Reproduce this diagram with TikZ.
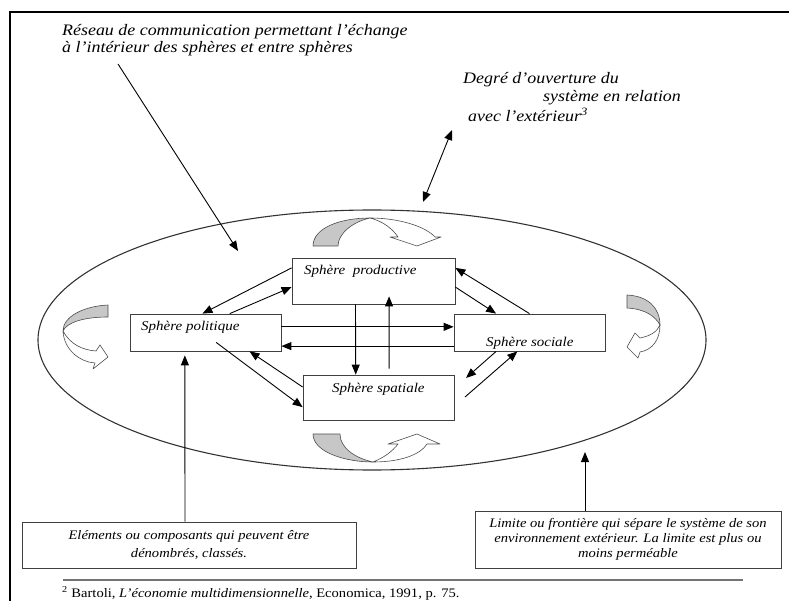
\documentclass[tikz,border=0pt]{standalone}
\usepackage{fontspec}
\setmainfont[FakeStretch=1.12]{Liberation Serif}
\usetikzlibrary{arrows.meta,shapes.geometric,calc}
\begin{document}
\begin{tikzpicture}[x=1pt,y=-1pt,
  every node/.style={inner sep=0pt},
  tip/.style={-{Triangle[length=10pt,width=8pt]}},
  link/.style={draw=black, line width=0.9pt, tip},
  spherebox/.style={draw=black!75, line width=0.8pt, fill=white},
  spherelab/.style={anchor=base west, font=\fontsize{13.4}{15}\selectfont\itshape},
  caption/.style={anchor=base west, font=\fontsize{16}{17}\selectfont\itshape},
  notebox/.style={draw=black!75, line width=0.8pt, align=center},
  bandgray/.style={fill=black!22, draw=black!70, line width=0.6pt, line join=round},
  bandwhite/.style={fill=white, draw=black!70, line width=0.6pt, line join=round}]
\useasboundingbox (0,0) rectangle (789,601);

% page frame
\draw[line width=2pt] (789,12) -- (10,12) -- (10,601);

% system boundary
\node[draw=black!80, line width=1.1pt, ellipse, minimum width=668pt, minimum height=260pt] (sys) at (372,340) {};

% captions
\node[caption] (res1) at (62,36) {Réseau de communication permettant l’échange};
\node[caption] (res2) at (62,52.5) {à l’intérieur des sphères et entre sphères};
\node[caption] (deg1) at (463,84) {Degré d’ouverture du};
\node[caption, text depth=0pt] (deg2) at (543,102) {système en relation};
\node[caption] (deg3) at (468,122) {avec l’extérieur\textsuperscript{3}};

\coordinate (resA) at (118,64);
\coordinate (resB) at (238,251);
\draw[link] (resA) -- (resB);
\coordinate (degA) at (452,130);
\coordinate (degB) at (423,202);
\draw[link, {Triangle[length=10pt,width=8pt]}-{Triangle[length=10pt,width=8pt]}] (degA) -- (degB);

% rotating flows: top
\path[bandgray] (313,246) .. controls (313,228) and (340,218) .. (370,218)
  .. controls (352,222) and (338,234) .. (338,246) -- cycle;
\path[bandwhite] (370,218) .. controls (398,218) and (425,226) .. (435,237) -- (441,237) -- (417,246)
  -- (390,237) -- (398,237) .. controls (392,228) and (382,221) .. (370,218) -- cycle;
% bottom
\path[bandgray] (313,434) .. controls (313,452) and (345,462) .. (373,462)
  .. controls (355,458) and (340,448) .. (340,434) -- cycle;
\path[bandwhite] (373,462) .. controls (400,462) and (420,455) .. (427,444) -- (440,444) -- (417,434)
  -- (388,444) -- (398,444) .. controls (392,452) and (383,458) .. (373,462) -- cycle;
% left
\path[bandgray] (108,305) .. controls (85,306) and (63,316) .. (63,331)
  .. controls (67,322) and (85,317) .. (108,317) -- cycle;
\path[bandwhite] (63,331) .. controls (64,350) and (80,362) .. (95,363) -- (93,369) -- (108,357)
  -- (100,345) -- (96,351) .. controls (82,350) and (70,344) .. (63,331) -- cycle;
% right
\path[bandgray] (627,295) .. controls (648,296) and (660,308) .. (660,325)
  .. controls (655,316) and (645,309) .. (627,308) -- cycle;
\path[bandwhite] (660,325) .. controls (660,340) and (652,350) .. (640,352) -- (638,358) -- (627,347)
  -- (635,333) -- (640,338) .. controls (650,336) and (657,332) .. (660,325) -- cycle;

% spheres
\node[spherebox, minimum width=163pt, minimum height=46pt] (prod) at (373.5,281) {};
\node[spherebox, minimum width=151pt, minimum height=37pt] (pol) at (205.5,332.5) {};
\node[spherebox, minimum width=151pt, minimum height=37pt] (soc) at (529.5,332.5) {};
\node[spherebox, minimum width=151pt, minimum height=45pt] (spa) at (378.5,397.5) {};

\node[spherelab] (prodlab) at (304,275) {Sphère\ \ productive};
\node[spherelab] (pollab) at (141,330.5) {Sphère politique};
\node[spherelab] (soclab) at (486,346) {Sphère sociale};
\node[spherelab] (spalab) at (332,392.5) {Sphère spatiale};

% exchanges between spheres
\draw[link] ($(prod.north west)!0.22!(prod.south west)$) -- ($(pol.north west)!0.48!(pol.north east)$);
\draw[link] ($(pol.north west)!0.66!(pol.north east)$) -- ($(prod.north west)!0.63!(prod.south west)$);
\draw[link] ($(soc.north west)!0.5!(soc.north east)$) -- ($(prod.north east)!0.22!(prod.south east)$);
\draw[link] ($(prod.north east)!0.63!(prod.south east)$) -- ($(soc.north west)!0.28!(soc.north east)$);
\draw[link] ($(pol.north east)!0.35!(pol.south east)$) -- ($(soc.north west)!0.35!(soc.south west)$);
\draw[link] ($(soc.north west)!0.86!(soc.south west)$) -- ($(pol.north east)!0.86!(pol.south east)$);
\draw[link] ($(prod.south west)!0.39!(prod.south east)$) -- ($(spa.north west)!0.35!(spa.north east)$);
\draw[link] ($(spa.north west)!0.57!(spa.north east)+(0,-6)$) -- ($(prod.south west)!0.595!(prod.south east)+(0,-8)$);
\draw[link] ($(pol.south west)!0.57!(pol.south east)+(0,-9)$) -- ($(spa.north west)!0.71!(spa.south west)$);
\draw[link] ($(spa.north west)!0.27!(spa.south west)$) -- ($(pol.south west)!0.79!(pol.south east)$);
\coordinate (socOut) at (466,378);
\coordinate (socIn) at (465,397);
\draw[link] ($(soc.south west)!0.28!(soc.south east)$) -- (socOut);
\draw[link] (socIn) -- ($(soc.south west)!0.42!(soc.south east)$);

% explanatory boxes
\node[notebox, minimum width=334pt, minimum height=46pt,
      font=\fontsize{13}{18}\selectfont\itshape] (elt) at (189,545)
  {Eléments ou composants qui peuvent être\\dénombrés, classés.};
\node[notebox, minimum width=306pt, minimum height=57pt,
      font=\fontsize{13}{14.8}\selectfont\itshape] (lim) at (628,539.5)
  {Limite ou frontière qui sépare le système de son\\environnement extérieur. La limite est plus ou\\moins perméable};

\draw[link] ($(elt.north west)!0.488!(elt.north east)$) -- ($(pol.south west)!0.364!(pol.south east)+(0,4)$);
\coordinate (limTip) at (585,452);
\draw[link] (limTip |- lim.north) -- (limTip);

% footnote
\draw[draw=black!55, line width=1.6pt] (63,580) -- (743,580);
\node[anchor=base west, font=\fontsize{13}{15}\selectfont] (foot) at (62,597)
  {\textsuperscript{2} Bartoli, \textit{L’économie multidimensionnelle}, Economica, 1991, p. 75.};
\end{tikzpicture}
\end{document}
